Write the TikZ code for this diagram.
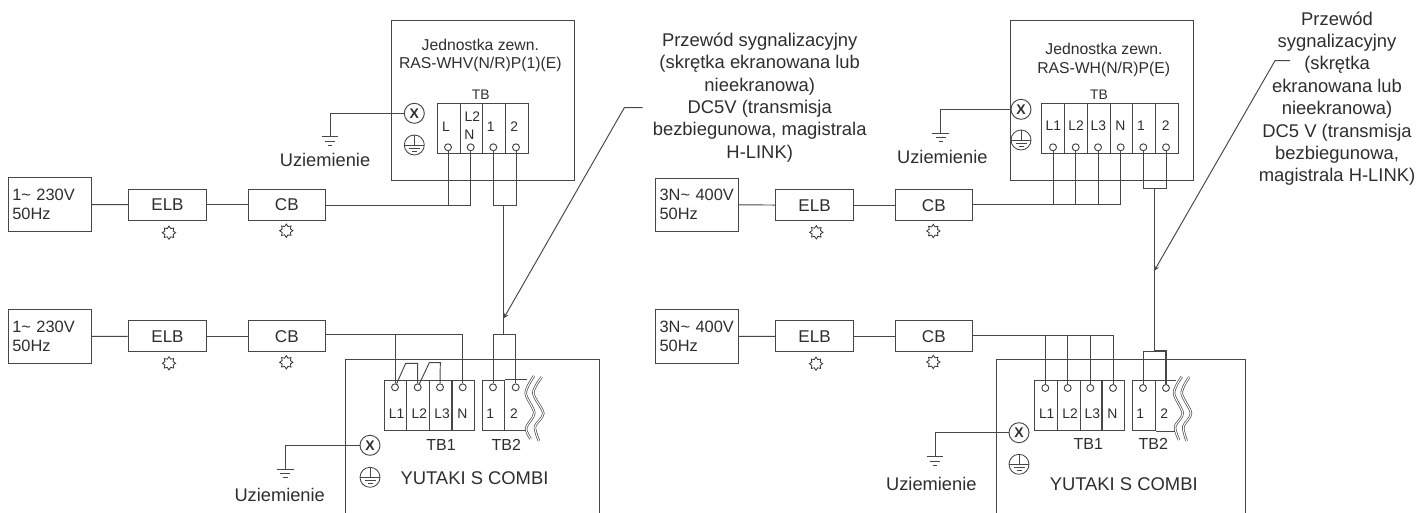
\documentclass[tikz,border=0pt]{standalone}
\usepackage{fontspec}
\setmainfont{Liberation Sans}
\usetikzlibrary{shapes.geometric}

\begin{document}
\begin{tikzpicture}[x=0.75pt,y=-0.75pt,
    wire/.style={draw=black!72,line width=0.72pt},
    txt/.style={text=black!82,inner sep=0pt},
    notetxt/.style={txt,align=center,font=\fontsize{13.8}{16.8}\selectfont},
    unittxt/.style={txt,font=\fontsize{11.8}{14}\selectfont},
    tbtxt/.style={txt,font=\fontsize{12}{13}\selectfont},
    celltxt/.style={txt,font=\fontsize{10.4}{13}\selectfont},
    earthtxt/.style={txt,font=\fontsize{13.7}{16}\selectfont},
    combitxt/.style={txt,font=\fontsize{13.8}{16}\selectfont},
    powerbox/.style={wire,txt,align=left,inner xsep=3pt,inner ysep=0pt,text width=56.2pt,
      minimum height=40pt,font=\fontsize{12.3}{14.2}\selectfont},
    switchbox/.style={wire,txt,align=center,minimum width=58.2pt,minimum height=23.2pt,
      font=\fontsize{12.8}{14}\selectfont},
    unitbox/.style={wire,minimum width=137.2pt,minimum height=119.6pt,inner sep=0pt},
    cellbox/.style={wire,minimum width=17pt,minimum height=37.5pt,inner sep=0pt},
    screw/.style={wire,circle,fill=white,minimum size=5.2pt,inner sep=0pt},
    xmark/.style={wire,circle,txt,minimum size=15pt,inner sep=0pt,font=\bfseries\fontsize{10.5}{12}\selectfont},
    flower/.style={draw=black!80,line width=0.6pt,star,star points=8,star point ratio=1.5,
      minimum size=10pt,inner sep=0pt},
    breakline/.style={draw=black!72,line width=0.5pt,double=white,double distance=0.8pt},
    earthmark/.pic={
      \draw[wire,line width=0.65pt] (0,0) circle [radius=10];
      \draw[wire,line width=0.65pt] (-10,0) -- (10,0);
      \draw[wire,line width=0.65pt] (0,-10) -- (0,0);
      \draw[wire,line width=0.65pt] (-5.5,3.5) -- (5.5,3.5);
      \draw[wire,line width=0.65pt] (-2.5,6.5) -- (2.5,6.5);
    },
    groundmark/.pic={
      \draw[wire] (-8.3,0) -- (8.3,0);
      \draw[wire] (-5,4.4) -- (5,4.4);
      \draw[wire] (-2.2,8.4) -- (2.2,8.4);
    }]

  \useasboundingbox (0,0) rectangle (1416,513);

  % The left outdoor unit.
  \node[unitbox] (lout) at (482.8,100.6) {};
  \node[unittxt] (loutname) at (480.3,44.7) {Jednostka zewn.};
  \node[unittxt] (loutmodel) at (480.3,64) {RAS-WHV(N/R)P(1)(E)};
  \node[tbtxt,font=\fontsize{10.4}{13}\selectfont] (loutTB) at (480.7,95) {TB};
  \node[cellbox] (locL) at (448.7,128.3) {};
  \node[cellbox] (locN) at (471.5,128.3) {};
  \node[cellbox] (loc1) at (494,128.3) {};
  \node[cellbox] (loc2) at (516.7,128.3) {};
  \node[celltxt] (lotL) at (446,126.7) {L};
  \node[celltxt] (lotLii) at (472.3,116.7) {L2};
  \node[celltxt] (lotN) at (469.3,135) {N};
  \node[celltxt] (lot1) at (490.7,126.7) {1};
  \node[celltxt] (lot2) at (514.3,126.7) {2};
  \node[screw] (losL) at (448,147.3) {};
  \node[screw] (losN) at (470.7,147.3) {};
  \node[screw] (los1) at (493.3,147.3) {};
  \node[screw] (los2) at (516,147.3) {};
  \node[xmark] (loutx) at (414.3,113.3) {X};
  \pic at (414.3,145) {earthmark};

  % Ground of the left outdoor unit.
  \coordinate (lognd) at (330,136.7);
  \draw[wire] (loutx) -| (lognd);
  \pic at (lognd) {groundmark};
  \node[earthtxt] (logndtxt) at (325,160) {Uziemienie};

  % Supply of the left outdoor unit.
  \node[powerbox] (lpowA) at (49.8,204.6) {1\textasciitilde{} 230V\\50Hz};
  \node[switchbox] (lelbA) at (167.5,204.7) {ELB};
  \node[switchbox] (lcbA) at (286.8,204.7) {CB};
  \node[flower] (lelbAm) at (169,232.7) {};
  \node[flower] (lcbAm) at (286.3,230.7) {};
  \coordinate (lbusA) at (470.7,205);
  \draw[wire] (lpowA) -- (lelbA);
  \draw[wire] (lelbA) -- (lcbA);
  \draw[wire] (lcbA.east |- lbusA) -- (lbusA);
  \draw[wire] (losL) -- (losL |- lbusA);
  \draw[wire] (losN) -- (lbusA);

  % The left indoor unit, its lower part is cut off.
  \draw[wire] (345.7,513) -- (345.7,359) -- (599.3,359) -- (599.3,513);
  \node[combitxt] (lintxt) at (474.5,478) {YUTAKI S COMBI};
  \node[tbtxt] (linTBi) at (441,444.7) {TB1};
  \node[tbtxt] (linTBii) at (506.3,444.7) {TB2};
  \node[cellbox] (licL1) at (395.6,405) {};
  \node[cellbox] (licL2) at (418.3,405) {};
  \node[cellbox] (licL3) at (441,405) {};
  \node[cellbox] (licN) at (463.2,405) {};
  \node[cellbox] (lic1) at (493.6,405) {};
  \draw[wire] (lic1.north east) -- ++(21.7,0);
  \draw[wire] (lic1.south east) -- ++(21.7,0);
  \node[celltxt] (litL1) at (396.7,414) {L1};
  \node[celltxt] (litL2) at (419.3,414) {L2};
  \node[celltxt] (litL3) at (442,414) {L3};
  \node[celltxt] (litN) at (462.3,414) {N};
  \node[celltxt] (lit1) at (490.3,414) {1};
  \node[celltxt] (lit2) at (514,414) {2};
  \node[screw] (lisL1) at (395,387.3) {};
  \node[screw] (lisL2) at (417.7,387.3) {};
  \node[screw] (lisL3) at (440,387.3) {};
  \node[screw] (lisN) at (462.7,387.3) {};
  \node[screw] (lis1) at (493,387.3) {};
  \node[screw] (lis2) at (515.7,387.3) {};
  \node[xmark] (linx) at (370,445.3) {X};
  \pic at (370,477.3) {earthmark};

  % Broken edge of TB2.
  \draw[breakline] plot[smooth] coordinates {(534,376) (525.7,393) (534.3,413) (526,428) (530.7,439)};
  \draw[breakline] plot[smooth] coordinates {(541.7,377) (533.3,393) (543.3,413.3) (535,426.7) (539,441)};

  % Ground of the left indoor unit.
  \coordinate (lignd) at (285.3,469.3);
  \draw[wire] (linx) -| (lignd);
  \pic at (lignd) {groundmark};
  \node[earthtxt] (ligndtxt) at (279.7,495) {Uziemienie};

  % Supply of the left indoor unit.
  \node[powerbox] (lpowB) at (49.8,336.4) {1\textasciitilde{} 230V\\50Hz};
  \node[switchbox] (lelbB) at (167.5,336.2) {ELB};
  \node[switchbox] (lcbB) at (286.8,336.2) {CB};
  \node[flower] (lelbBm) at (169,363.3) {};
  \node[flower] (lcbBm) at (286.3,362.3) {};
  \coordinate (lbusB) at (462.7,334.7);
  \draw[wire] (lpowB) -- (lelbB);
  \draw[wire] (lelbB) -- (lcbB);
  \draw[wire] (lcbB.east |- lbusB) -- (lbusB);
  \draw[wire] (lisL1) -- (lisL1 |- lbusB);
  \draw[wire] (lisN) -- (lbusB);

  % Jumpers between L1, L2 and L3.
  \coordinate (ljmpa) at (405.7,363.3);
  \coordinate (ljmpb) at (417.7,363.3);
  \coordinate (ljmpc) at (429.3,362.7);
  \coordinate (ljmpd) at (440.3,362.7);
  \draw[wire] (lisL1) -- (ljmpa) -- (ljmpb) -- (lisL2);
  \draw[wire] (lisL2) -- (ljmpc) -- (ljmpd) -- (lisL3);

  % Signal cable between the left units.
  \coordinate (lsigA) at (503.7,205);
  \coordinate (lsigB) at (503.7,334.7);
  \draw[wire] (los1) |- (lsigA);
  \draw[wire] (los2) |- (lsigA);
  \draw[wire] (lsigA) -- (lsigB);
  \draw[wire] (lis1) |- (lsigB);
  \draw[wire] (lis2) |- (lsigB);
  \coordinate (lleadA) at (642.7,107.7);
  \coordinate (lleadB) at (624.3,107.7);
  \coordinate (lleadC) at (503.7,318.3);
  \draw[wire,-stealth] (lleadA) -- (lleadB) -- (lleadC);
  \node[notetxt] (lnote) at (759.7,97.5) {Przewód sygnalizacyjny\\(skrętka ekranowana lub\\nieekranowa)\\DC5V (transmisja\\bezbiegunowa, magistrala\\H-LINK)};

  % The right outdoor unit.
  \node[unitbox] (rout) at (1102,100.6) {};
  \node[unittxt] (routname) at (1104,48.7) {Jednostka zewn.};
  \node[unittxt] (routmodel) at (1103.7,69) {RAS-WH(N/R)P(E)};
  \node[tbtxt,font=\fontsize{10.4}{13}\selectfont] (routTB) at (1099,95) {TB};
  \node[cellbox] (rocL1) at (1053.2,128.3) {};
  \node[cellbox] (rocL2) at (1076,128.3) {};
  \node[cellbox] (rocL3) at (1098.7,128.3) {};
  \node[cellbox] (rocN) at (1121.4,128.3) {};
  \node[cellbox] (roc1) at (1144,128.3) {};
  \node[cellbox] (roc2) at (1166.7,128.3) {};
  \node[celltxt] (rotL1) at (1053.3,126) {L1};
  \node[celltxt] (rotL2) at (1076,126) {L2};
  \node[celltxt] (rotL3) at (1098.3,126) {L3};
  \node[celltxt] (rotN) at (1120.3,126) {N};
  \node[celltxt] (rot1) at (1141,126) {1};
  \node[celltxt] (rot2) at (1165.7,126) {2};
  \node[screw] (rosL1) at (1053,147.3) {};
  \node[screw] (rosL2) at (1075.7,147.3) {};
  \node[screw] (rosL3) at (1098,147.3) {};
  \node[screw] (rosN) at (1120.7,147.3) {};
  \node[screw] (ros1) at (1143.3,147.3) {};
  \node[screw] (ros2) at (1166,147.3) {};
  \node[xmark] (routx) at (1021,109.3) {X};
  \pic at (1021,140) {earthmark};

  % Ground of the right outdoor unit.
  \coordinate (rognd) at (940.7,133.3);
  \draw[wire] (routx) -| (rognd);
  \pic at (rognd) {groundmark};
  \node[earthtxt] (rogndtxt) at (942.3,157) {Uziemienie};

  % Supply of the right outdoor unit.
  \node[powerbox] (rpowA) at (697,204.7) {3N\textasciitilde{} 400V\\50Hz};
  \node[switchbox] (relbA) at (814.5,205.2) {ELB};
  \node[switchbox] (rcbA) at (933.8,205.2) {CB};
  \node[flower] (relbAm) at (816.3,232.3) {};
  \node[flower] (rcbAm) at (933.3,231) {};
  \coordinate (rbusA) at (1120.7,204.7);
  \draw[wire] (rpowA) -- (relbA);
  \draw[wire] (relbA) -- (rcbA);
  \draw[wire] (rcbA.east |- rbusA) -- (rbusA);
  \draw[wire] (rosL1) -- (rosL1 |- rbusA);
  \draw[wire] (rosL2) -- (rosL2 |- rbusA);
  \draw[wire] (rosL3) -- (rosL3 |- rbusA);
  \draw[wire] (rosN) -- (rbusA);

  % The right indoor unit, its lower part is cut off.
  \draw[wire] (996,513) -- (996,359.3) -- (1245.3,359.3) -- (1245.3,513);
  \node[combitxt] (rintxt) at (1123.7,484) {YUTAKI S COMBI};
  \node[tbtxt] (rinTBi) at (1088.3,444.3) {TB1};
  \node[tbtxt] (rinTBii) at (1153.3,444.3) {TB2};
  \node[cellbox] (ricL1) at (1046,405.5) {};
  \node[cellbox] (ricL2) at (1068.7,405.5) {};
  \node[cellbox] (ricL3) at (1091.3,405.5) {};
  \node[cellbox] (ricN) at (1113.2,405.5) {};
  \node[cellbox] (ric1) at (1143.8,405.5) {};
  \draw[wire] (ric1.north east) -- ++(20.7,0);
  \draw[wire] (ric1.south east) -- ++(20.7,0);
  \node[celltxt] (ritL1) at (1046.7,414) {L1};
  \node[celltxt] (ritL2) at (1070,414) {L2};
  \node[celltxt] (ritL3) at (1092.3,414) {L3};
  \node[celltxt] (ritN) at (1112.3,414) {N};
  \node[celltxt] (rit1) at (1140.3,414) {1};
  \node[celltxt] (rit2) at (1164.3,414) {2};
  \node[screw] (risL1) at (1045.3,388) {};
  \node[screw] (risL2) at (1067.7,388) {};
  \node[screw] (risL3) at (1090.3,388) {};
  \node[screw] (risN) at (1113,388) {};
  \node[screw] (ris1) at (1143,388) {};
  \node[screw] (ris2) at (1166,388) {};
  \node[xmark] (rinx) at (1019,432.7) {X};
  \pic at (1019,464.3) {earthmark};

  % Broken edge of TB2.
  \draw[breakline] plot[smooth] coordinates {(1181.7,376.7) (1174,393) (1182.7,413.3) (1175,426.7) (1179,440)};
  \draw[breakline] plot[smooth] coordinates {(1189.3,377) (1181.7,393) (1191,413.3) (1183.3,426.7) (1186.7,441)};

  % Ground of the right indoor unit.
  \coordinate (rignd) at (935,456.7);
  \draw[wire] (rinx) -| (rignd);
  \pic at (rignd) {groundmark};
  \node[earthtxt] (rigndtxt) at (931.3,484) {Uziemienie};

  % Supply of the right indoor unit.
  \node[powerbox] (rpowB) at (697,336.5) {3N\textasciitilde{} 400V\\50Hz};
  \node[switchbox] (relbB) at (814.5,336.3) {ELB};
  \node[switchbox] (rcbB) at (933.8,336.3) {CB};
  \node[flower] (relbBm) at (816,363.7) {};
  \node[flower] (rcbBm) at (933.3,362) {};
  \coordinate (rbusB) at (1113,335.3);
  \draw[wire] (rpowB) -- (relbB);
  \draw[wire] (relbB) -- (rcbB);
  \draw[wire] (rcbB.east |- rbusB) -- (rbusB);
  \draw[wire] (risL1) -- (risL1 |- rbusB);
  \draw[wire] (risL2) -- (risL2 |- rbusB);
  \draw[wire] (risL3) -- (risL3 |- rbusB);
  \draw[wire] (risN) -- (rbusB);

  % Signal cable between the right units.
  \coordinate (rsigA) at (1154.3,188.3);
  \coordinate (rsigB) at (1154.3,351);
  \draw[wire] (ros1) |- (rsigA);
  \draw[wire] (ros2) |- (rsigA);
  \draw[wire] (rsigA) -- (rsigB);
  \draw[wire] (ris1) |- (rsigB);
  \draw[wire,line width=1.2pt] (ris2) |- (rsigB);
  \coordinate (rleadA) at (1290,60.7);
  \coordinate (rleadB) at (1275,60.7);
  \coordinate (rleadC) at (1154.3,270.7);
  \draw[wire,-stealth] (rleadA) -- (rleadB) -- (rleadC);
  \node[notetxt] (rnote) at (1337,98.6) {Przewód\\sygnalizacyjny\\(skrętka\\ekranowana lub\\nieekranowa)\\DC5 V (transmisja\\bezbiegunowa,\\magistrala H-LINK)};

\end{tikzpicture}
\end{document}
